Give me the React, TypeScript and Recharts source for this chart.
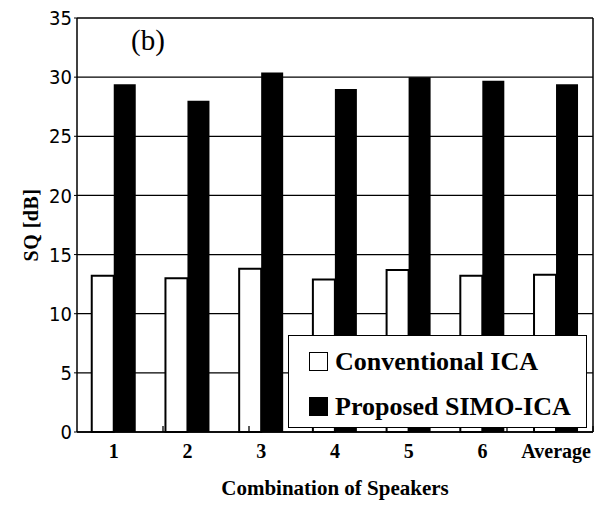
import React from "react";
import {
  BarChart, Bar, XAxis, YAxis, CartesianGrid, ReferenceLine,
} from "recharts";

// values
const combos = ["1", "2", "3", "4", "5", "6", "Average"];
const conventionalICA = [13.2, 13.0, 13.8, 12.9, 13.7, 13.2, 13.3];
const simoICA = [29.4, 28.0, 30.4, 29.0, 30.0, 29.7, 29.4];
const yTicks = [0, 5, 10, 15, 20, 25, 30, 35];
const boundaryTicks = [1, 2, 3, 4, 5, 6];
const legendItems = [
  { label: "Conventional ICA", fill: "#fff" },
  { label: "Proposed SIMO-ICA", fill: "#000" },
];

const data = combos.map((c, i) => ({
  name: c,
  conv: conventionalICA[i],
  simo: simoICA[i],
}));

const serif = "'Liberation Serif', 'Times New Roman', serif";
const narrow = "'Liberation Sans Narrow', 'Arial Narrow', 'DejaVu Sans Condensed', sans-serif";

const LegendBox = () => (
  <div style={{
    position: "absolute", left: 288, top: 335,
    width: "299px", height: "93px", boxSizing: "border-box",
    border: "1.5px solid #000", background: "#fff", paddingTop: "3px",
  }}>
    {legendItems.map(item => (
      <div key={item.label} style={{ display: "flex", alignItems: "center", height: "45px", paddingLeft: "20px" }}>
        <div style={{ width: "17px", height: "17px", border: "1.5px solid #000", background: item.fill, marginRight: "7px" }} />
        <span style={{ fontFamily: serif, fontWeight: 700, fontSize: "26px", color: "#000" }}>
          {item.label}
        </span>
      </div>
    ))}
  </div>
);

const YLabel = (props: any) => {
  const { viewBox } = props;
  const cy = viewBox.y + viewBox.height / 2;
  return (
    <text x={31} y={cy} transform={`rotate(-90, 31, ${cy})`} textAnchor="middle" dominantBaseline="central"
      style={{ fontFamily: serif, fontWeight: 700, fontSize: 20, letterSpacing: 0.5 }} fill="#000">
      SQ [dB]
    </text>
  );
};

export default function App() {
  return (
    <div style={{ position: "absolute", left: 0, top: 0, width: 597, height: 505, background: "#fff" }}>
      <BarChart
        width={597}
        height={505}
        data={data}
        margin={{ top: 18, right: 0, left: 0, bottom: 0 }}
        barCategoryGap="20%"
        barGap={0}
      >
        <CartesianGrid vertical={false} stroke="#000" strokeWidth={1.3} />
        <XAxis
          dataKey="name"
          height={73}
          axisLine={{ stroke: "#000", strokeWidth: 1.5 }}
          tickLine={false}
          tickSize={0}
          tickMargin={12}
          interval={0}
          tick={{ fontFamily: serif, fontWeight: 700, fontSize: 20, fill: "#000" }}
          label={{
            value: "Combination of Speakers",
            position: "insideBottom",
            offset: 10,
            style: { fontFamily: serif, fontWeight: 700, fontSize: 21, fill: "#000" },
          }}
        />
        {/* hidden numeric axis, only used for the small ticks between the groups */}
        <XAxis xAxisId="tk" type="number" domain={[0, 7]} hide />
        <YAxis
          width={77}
          domain={[0, 35]}
          ticks={yTicks}
          interval={0}
          axisLine={{ stroke: "#000", strokeWidth: 1.5 }}
          tickLine={{ stroke: "#000" }}
          tickSize={3}
          tickMargin={2}
          tick={{ fontFamily: narrow, fontSize: 20, fill: "#000" }}
          label={<YLabel />}
        />
        <YAxis
          yAxisId="right"
          orientation="right"
          width={4}
          domain={[0, 35]}
          tick={false}
          tickLine={false}
          axisLine={{ stroke: "#000", strokeWidth: 1.5 }}
        />
        <Bar dataKey="conv" name="Conventional ICA" fill="#fff" stroke="#000" strokeWidth={2} isAnimationActive={false} />
        <Bar dataKey="simo" name="Proposed SIMO-ICA" fill="#000" stroke="#000" strokeWidth={0} isAnimationActive={false} />
        {boundaryTicks.map(b => (
          <ReferenceLine
            key={b}
            xAxisId="tk"
            segment={[{ x: b, y: 0 }, { x: b, y: 0.5 }]}
            stroke="#000"
            strokeWidth={1.3}
          />
        ))}
      </BarChart>
      <LegendBox />
      <div style={{
        position: "absolute", left: 131, top: 24, fontFamily: serif, fontSize: "29px", color: "#000",
      }}>
        (b)
      </div>
    </div>
  );
}
